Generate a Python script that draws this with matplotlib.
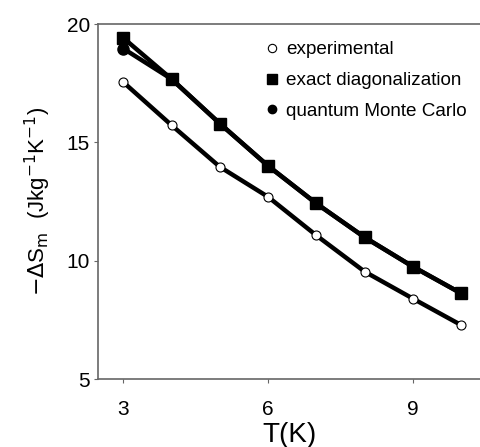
import matplotlib
matplotlib.use("Agg")
import matplotlib.pyplot as plt
from matplotlib.lines import Line2D

plt.rcParams['font.family'] = ['Liberation Sans', 'DejaVu Sans']

# temperaturas (K)
T = [3, 4, 5, 6, 7, 8, 9, 10]
# -dS_m (J/kg K)
experimental = [17.55, 15.73, 13.97, 12.70, 11.07, 9.54, 8.40, 7.28]
exact_diag = [19.42, 17.68, 15.80, 14.01, 12.42, 10.99, 9.75, 8.62]
qmc = [18.97, 17.68, 15.80, 14.01, 12.42, 10.99, 9.75, 8.62]

xticks = [3, 6, 9]
yticks = [5, 10, 15, 20]

fig = plt.figure(figsize=(4.81, 4.47), dpi=100)
ax = fig.add_axes([0.204, 0.152, 0.796, 0.794])

ax.plot(T, qmc, color='black', lw=3.2, marker='o', ms=8, mfc='black', mec='black')
ax.plot(T, exact_diag, color='black', lw=3.2, marker='s', ms=9, mfc='black', mec='black')
ax.plot(T, experimental, color='black', lw=3.2, marker='o', ms=6.5, mfc='white', mec='black', mew=0.8)

ax.set_xlim(2.48, 10.41)
ax.set_ylim(5, 20)
ax.set_xticks(xticks)
ax.set_yticks(yticks)

for s in ['left', 'bottom', 'top']:
    ax.spines[s].set_color('#666666')
    ax.spines[s].set_linewidth(1.2)
ax.spines['right'].set_visible(False)
ax.tick_params(colors='#666666', labelcolor='black', length=3, labelsize=15)
ax.tick_params(axis='x', pad=12)
ax.tick_params(axis='y', pad=3)

ax.set_xlabel('T(K)', fontsize=20, labelpad=2)
ax.set_ylabel(r'$-\Delta$S$_{\rm m}$  (Jkg$^{-1}$K$^{-1}$)', fontsize=16, labelpad=10)

handles = [
    Line2D([], [], ls='none', marker='o', ms=6, mfc='white', mec='black', mew=0.8),
    Line2D([], [], ls='none', marker='s', ms=7, mfc='black', mec='black'),
    Line2D([], [], ls='none', marker='o', ms=6, mfc='black', mec='black'),
]
ax.legend(handles, ['experimental', 'exact diagonalization', 'quantum Monte Carlo'],
          loc='upper left', bbox_to_anchor=(0.385, 1.0), frameon=False, fontsize=13.6,
          handletextpad=0.25, labelspacing=0.72, handlelength=1.0)

fig.savefig('out.png', dpi=100)
